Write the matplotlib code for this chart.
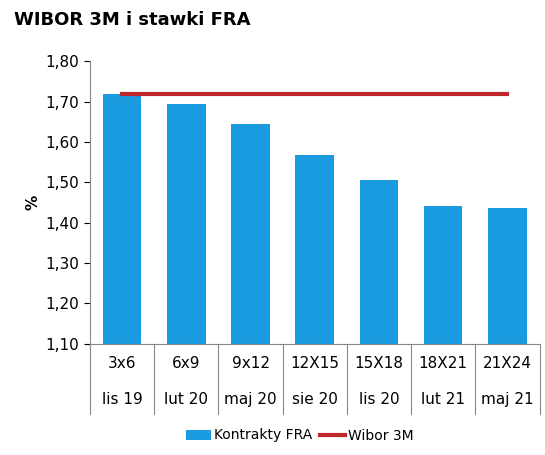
import matplotlib
matplotlib.use("Agg")
import matplotlib.pyplot as plt
from matplotlib.ticker import FuncFormatter
from matplotlib.lines import Line2D

contracts = ["3x6", "6x9", "9x12", "12X15", "15X18", "18X21", "21X24"]
months = ["lis 19", "lut 20", "maj 20", "sie 20", "lis 20", "lut 21", "maj 21"]
fra = [1.72, 1.695, 1.645, 1.567, 1.505, 1.442, 1.437]
wibor = [1.72] * 7

fig = plt.figure(figsize=(5.45, 4.55), dpi=100)
ax = fig.add_axes([0.165, 0.245, 0.825, 0.62])
x = range(len(fra))
bars = ax.bar(x, fra, width=0.6, color="#1a9be0", label="Kontrakty FRA")
line, = ax.plot(x, wibor, color="#c0272d", lw=3, label="Wibor 3M")
ax.set_ylim(1.10, 1.80)
ax.set_xlim(-0.5, 6.5)
ax.set_yticks([1.1 + 0.1 * i for i in range(8)])
ax.yaxis.set_major_formatter(FuncFormatter(lambda v, p: f"{v:.2f}".replace(".", ",")))
ax.set_xticks([])
ax.set_ylabel("%", fontsize=11, fontweight="bold")
ax.tick_params(axis="y", labelsize=11, length=4, direction="out")
for s in ["top", "right"]:
    ax.spines[s].set_visible(False)
for s in ["left", "bottom"]:
    ax.spines[s].set_color("#888888")

# two-level category labels
for i in range(len(fra)):
    ax.text(i, -0.07, contracts[i], transform=ax.get_xaxis_transform(), ha="center", va="center", fontsize=11)
    ax.text(i, -0.2, months[i], transform=ax.get_xaxis_transform(), ha="center", va="center", fontsize=11)
for i in range(len(fra) + 1):
    ax.add_line(Line2D([i - 0.5, i - 0.5], [0, -0.25], transform=ax.get_xaxis_transform(),
                       color="#888888", lw=0.8, clip_on=False))

fig.text(0.025, 0.955, "WIBOR 3M i stawki FRA", fontsize=13, fontweight="bold", va="center")
fig.legend([bars, line], ["Kontrakty FRA", "Wibor 3M"], loc="lower center",
           bbox_to_anchor=(0.55, 0.0), ncol=2, frameon=False,
           fontsize=10, handlelength=1.8, columnspacing=0.6, handletextpad=0.2)
fig.savefig("out.png", dpi=100)
